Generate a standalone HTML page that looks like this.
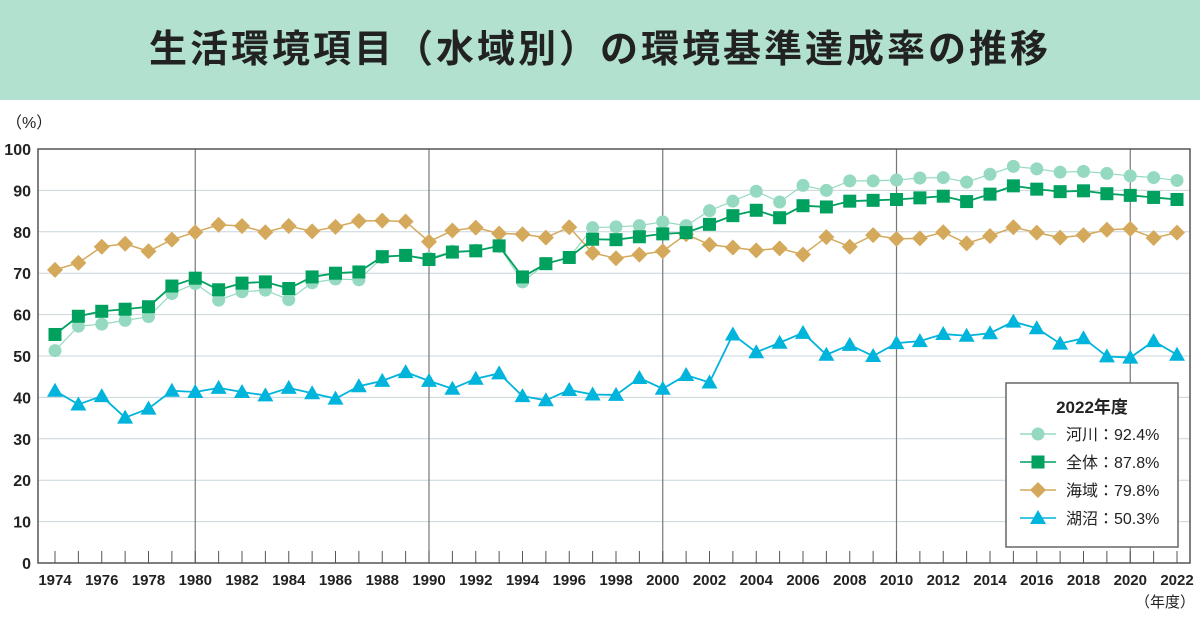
<!DOCTYPE html>
<html><head><meta charset="utf-8"><style>
body{margin:0;width:1200px;height:620px;background:#fff;overflow:hidden;font-family:"Liberation Sans","Noto Sans CJK JP",sans-serif}
#t{position:absolute;left:0;top:0;width:1200px;height:100px;background:#b2e2cf;text-align:center;line-height:100px;font-size:38px;font-weight:bold;color:#222;letter-spacing:3px}
svg{position:absolute;left:0;top:0}
</style></head><body>
<div id="t">生活環境項目（水域別）の環境基準達成率の推移</div>
<svg id="s" width="1200" height="620" font-family="Liberation Sans, Noto Sans CJK JP, sans-serif"></svg>
<script>
const s=document.getElementById('s');let h='';
const X=y=>55+(y-1974)*23.375, Y=v=>563-v*4.14;
h+='<text x="6" y="128" font-size="16" fill="#222">（%）</text>';
for(let v=0;v<=100;v+=10){h+=`<line x1="38" x2="1190" y1="${Y(v)}" y2="${Y(v)}" stroke="#c9d6dc" stroke-width="1"/>`;
h+=`<text x="31" y="${Y(v)+6}" font-size="16" font-weight="bold" text-anchor="end" fill="#222">${v}</text>`;}
for(let y=1980;y<=2020;y+=10)h+=`<line x1="${X(y)}" x2="${X(y)}" y1="149" y2="563" stroke="#777" stroke-width="1.2"/>`;
h+='<rect x="38" y="149" width="1152" height="414" fill="none" stroke="#555" stroke-width="1.5"/>';
for(let y=1974;y<=2022;y++){h+=`<line x1="${X(y)}" x2="${X(y)}" y1="551" y2="563" stroke="#555"/>`;
if(y%2==0)h+=`<text x="${X(y)}" y="585" font-size="15" font-weight="bold" text-anchor="middle" fill="#222">${y}</text>`;}
h+='<text x="1195" y="607" font-size="15" text-anchor="end" fill="#222">（年度）</text>';
const R=[51.3,57.2,57.7,58.6,59.5,65.1,67.5,63.5,65.5,65.9,63.6,67.7,68.6,68.4,73.8,74.3,73.6,75.3,75.5,76.5,67.9,72.3,73.8,81.0,81.2,81.5,82.4,81.5,85.1,87.4,89.8,87.2,91.2,90.0,92.3,92.3,92.5,93.0,93.1,92.0,93.9,95.8,95.2,94.4,94.6,94.1,93.5,93.1,92.4];
const A=[55.2,59.6,60.8,61.3,61.9,66.9,68.8,66.0,67.6,67.9,66.3,69.1,70.0,70.3,74.0,74.3,73.3,75.1,75.4,76.6,69.1,72.3,73.8,78.2,78.1,78.8,79.5,79.8,81.8,83.9,85.2,83.4,86.3,86.0,87.4,87.6,87.8,88.2,88.6,87.3,89.1,91.1,90.3,89.7,89.9,89.2,88.8,88.3,87.8];
const S=[70.8,72.5,76.4,77.1,75.3,78.1,79.9,81.7,81.4,79.9,81.4,80.1,81.2,82.6,82.7,82.5,77.6,80.3,81.0,79.6,79.4,78.6,81.1,74.9,73.6,74.5,75.3,79.4,76.9,76.2,75.5,76.0,74.5,78.7,76.4,79.2,78.3,78.4,79.9,77.2,79.0,81.1,79.8,78.6,79.2,80.5,80.7,78.5,79.8];
const L=[41.6,38.3,40.3,35.1,37.3,41.6,41.3,42.3,41.3,40.5,42.3,41.0,39.7,42.7,44.0,46.1,44.0,42.1,44.5,45.8,40.3,39.3,41.8,40.7,40.6,44.7,42.1,45.4,43.6,55.2,50.9,53.2,55.6,50.3,52.7,50.0,53.1,53.6,55.3,54.9,55.5,58.3,56.7,53.0,54.3,49.9,49.6,53.6,50.3];
function mk(t,x,y,c){if(t==0)return `<circle cx="${x}" cy="${y}" r="6.5" fill="${c}"/>`;
if(t==1)return `<rect x="${x-6.5}" y="${y-6.5}" width="13" height="13" fill="${c}"/>`;
if(t==2)return `<polygon points="${x},${y-8} ${x+8},${y} ${x},${y+8} ${x-8},${y}" fill="${c}"/>`;
return `<polygon points="${x},${y-8} ${x+8},${y+6} ${x-8},${y+6}" fill="${c}"/>`;}
function ser(d,c,t,w){h+=`<polyline fill="none" stroke="${c}" stroke-width="${w}" points="${d.map((v,i)=>X(1974+i)+','+Y(v)).join(' ')}"/>`;
d.forEach((v,i)=>h+=mk(t,X(1974+i),Y(v),c));}
ser(R,'#95dac0',0,1.2);ser(S,'#d4a95b',2,1.5);ser(A,'#00a05e',1,1.8);ser(L,'#00b4dc',3,1.8);
h+='<rect x="1006" y="383" width="172" height="164" fill="#fff" stroke="#666" stroke-width="1.5"/>';
h+='<text x="1092" y="413" font-size="17" font-weight="bold" text-anchor="middle" fill="#222">2022年度</text>';
const lg=[['河川：92.4%','#95dac0',0],['全体：87.8%','#00a05e',1],['海域：79.8%','#d4a95b',2],['湖沼：50.3%','#00b4dc',3]];
lg.forEach((l,i)=>{const y=434+i*28;h+=`<line x1="1020" x2="1056" y1="${y}" y2="${y}" stroke="${l[1]}" stroke-width="1.5"/>`+mk(l[2],1038,y,l[1])+`<text x="1066" y="${y+6}" font-size="16" fill="#222">${l[0]}</text>`;});
s.innerHTML=h;
</script>
</body></html>
